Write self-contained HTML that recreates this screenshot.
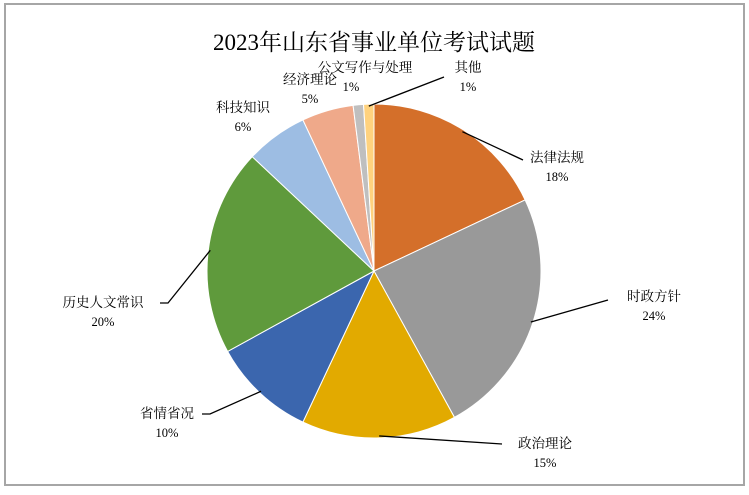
<!DOCTYPE html>
<html><head><meta charset="utf-8"><style>
html,body{margin:0;padding:0;background:#fff;}
svg text{font-family:"Liberation Serif","Noto Serif CJK SC",serif;}
</style></head><body>
<svg width="749" height="490" viewBox="0 0 749 490" xmlns="http://www.w3.org/2000/svg">
<rect x="5" y="4" width="739" height="481" fill="#fff" stroke="#a6a6a6" stroke-width="2"/>
<text x="374" y="50" font-size="23" text-anchor="middle" fill="#000">2023年山东省事业单位考试试题</text>
<g id="slices"></g>
<g id="labels"></g>
</svg>
<script>
const categories=["法律法规","时政方针","政治理论","省情省况","历史人文常识","科技知识","经济理论","公文写作与处理","其他"];
const values=[18,24,15,10,20,6,5,1,1];
const colors=["#D46F2A","#999999","#E2AA00","#3B66AE","#5F9A3C","#9DBDE3","#EFA98A","#BFBFBF","#FFD27E"];
const cx=374,cy=271,r=167;
const NS="http://www.w3.org/2000/svg";
const total=values.reduce((a,b)=>a+b,0);
const gS=document.getElementById('slices'),gL=document.getElementById('labels');
// label anchors [labelX, labelY, elbowX, elbowY] chosen per slice for layout
const labelPos=[[557,157,523,160],[654,296,608,300],[545,443,502,444],[167,413,210,414],[103,302,168,303],[243,107,0,0],[310,79,0,0],[365,67,0,0],[468,67,444,77]];
let a=0;
function pt(ang,rad){return [cx+rad*Math.sin(ang),cy-rad*Math.cos(ang)];}
values.forEach((v,i)=>{
  const a0=a,a1=a+v/total*2*Math.PI;a=a1;
  const p0=pt(a0,r),p1=pt(a1,r);
  const large=(a1-a0)>Math.PI?1:0;
  const path=document.createElementNS(NS,'path');
  path.setAttribute('d',`M${cx},${cy}L${p0[0]},${p0[1]}A${r},${r} 0 ${large} 1 ${p1[0]},${p1[1]}Z`);
  path.setAttribute('fill',colors[i]);
  path.setAttribute('stroke','#fff');path.setAttribute('stroke-width','1');
  
  
  gS.appendChild(path);
  const lp=labelPos[i];
  const mid=(a0+a1)/2;
  if(lp[2]){
    const e=pt(mid,r-2);
    const ln=document.createElementNS(NS,'polyline');
    const ex=lp[2]<cx?lp[2]-8:lp[2]+8;
    ln.setAttribute('points',`${e[0]},${e[1]} ${lp[2]},${lp[3]} ${lp[2]<cx?lp[2]-8:lp[2]+0},${lp[3]}`);
    ln.setAttribute('fill','none');ln.setAttribute('stroke','#000');ln.setAttribute('stroke-width','1.3');
    
    
    gL.appendChild(ln);
  }
  const t=document.createElementNS(NS,'text');
  t.setAttribute('x',lp[0]);t.setAttribute('y',lp[1]+5);
  t.setAttribute('font-size','13.5');t.setAttribute('text-anchor','middle');
  t.textContent=categories[i];
  
  
  gL.appendChild(t);
  const t2=document.createElementNS(NS,'text');
  t2.setAttribute('x',i==7?351:lp[0]);t2.setAttribute('y',lp[1]+24);
  t2.setAttribute('font-size','12.5');t2.setAttribute('text-anchor','middle');
  t2.textContent=v+'%';
  
  
  gL.appendChild(t2);
});
</script>
</body></html>
